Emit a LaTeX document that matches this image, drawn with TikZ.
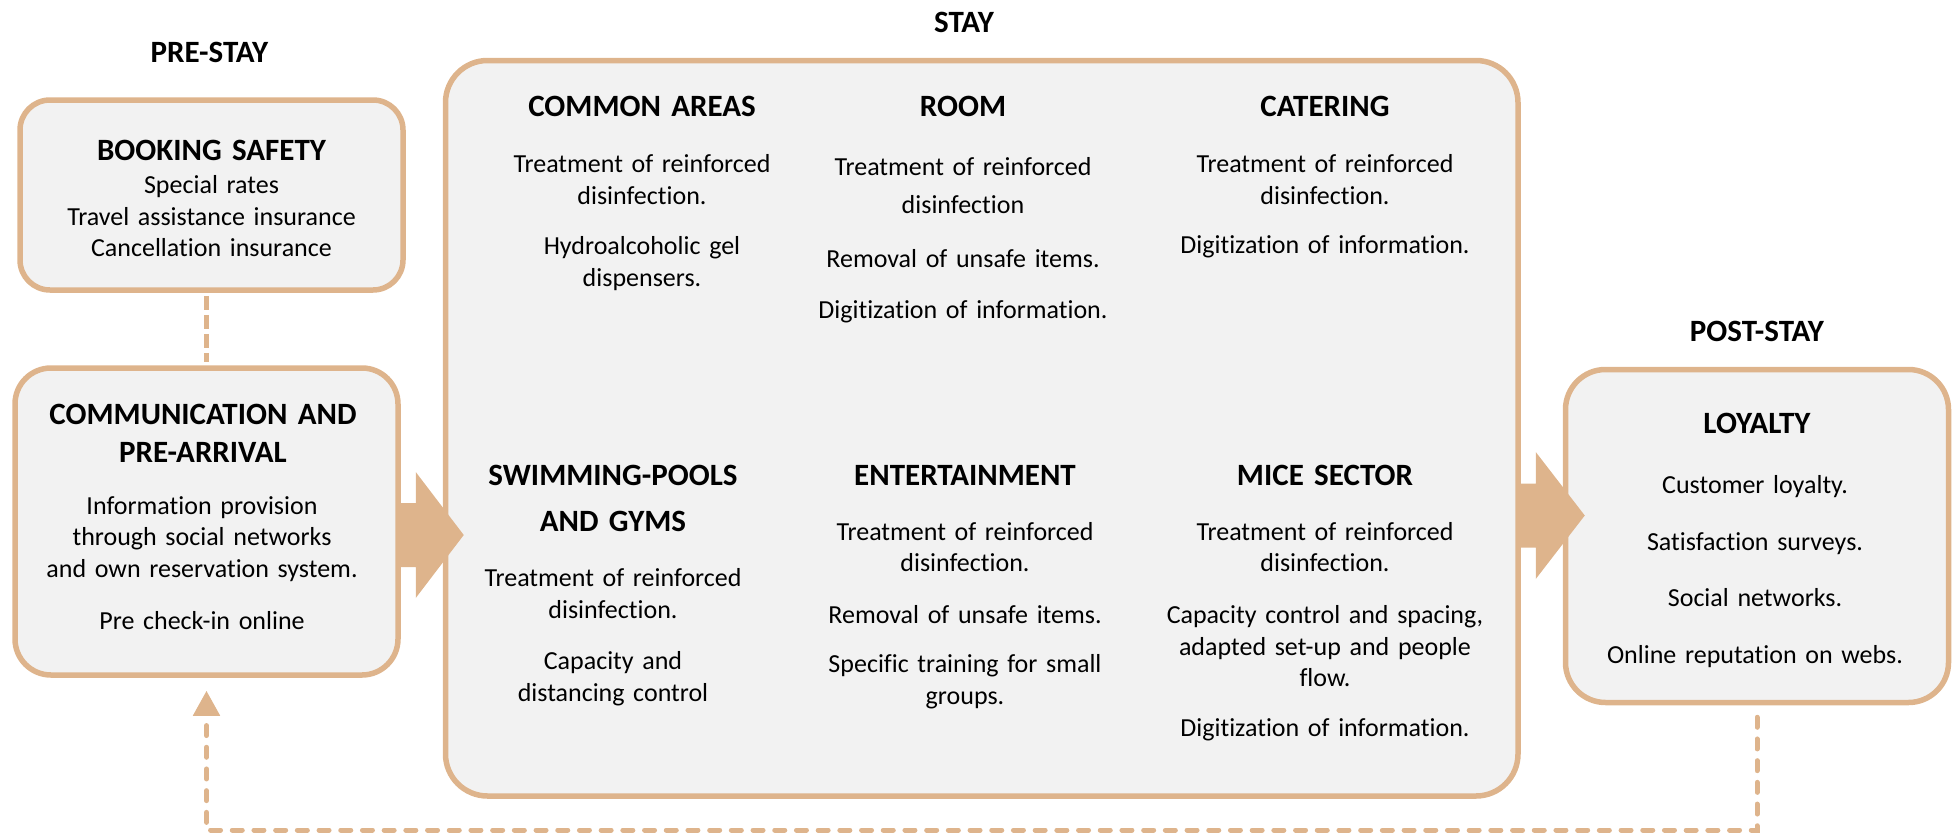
\documentclass[tikz,border=0pt]{standalone}
\usepackage{fontspec}
\setmainfont{Carlito}[Ligatures=NoCommon]
\usepackage{tikz}
\usetikzlibrary{arrows.meta}

\definecolor{boxline}{RGB}{222,180,140}
\definecolor{boxfill}{RGB}{242,242,242}

\begin{document}
\begin{tikzpicture}[x=1pt,y=-1pt,
  box/.style={draw=boxline, line width=5.5pt, fill=boxfill, rectangle, inner sep=0pt},
  head/.style={font=\fontsize{31}{37}\selectfont\bfseries, anchor=base, inner sep=0pt,
    text width=380pt, align=center},
  item/.style={font=\fontsize{26}{31.7}\selectfont, anchor=base, inner sep=0pt,
    text width=380pt, align=center},
  dashline/.style={draw=boxline, line width=5pt},
  fatarrow/.style={fill=boxline}]
  \useasboundingbox (0,0) rectangle (1955,833);
  \coordinate (arrowrow1) at (0,535);
  \coordinate (arrowrow2) at (0,515.5);
  \coordinate (bottomrow) at (0,830);

  % phases
  \node[box, rounded corners=30pt, minimum width=383pt, minimum height=190pt] (booking) at (211.5,195) {};
  \node[box, rounded corners=36pt, minimum width=383pt, minimum height=307pt] (comm) at (206.5,521.5) {};
  \node[box, rounded corners=42pt, minimum width=1072.5pt, minimum height=735.5pt] (stay) at (981.75,428.25) {};
  \node[box, rounded corners=40pt, minimum width=383pt, minimum height=333pt] (loyalty) at (1757,536) {};

  \draw[dashline, dash pattern=on 14pt off 5pt] ([yshift=-3pt]booking.south -| comm.north) -- ([yshift=3pt]comm.north);
  \draw[dashline, line cap=round, dash pattern=on 10pt off 11.7pt, -{Triangle[width=26pt,length=25pt]}]
    ([yshift=-12pt]loyalty.south) -- (loyalty.south |- bottomrow) -| ([yshift=-13pt]comm.south);

  \fill[fatarrow] (comm.east |- arrowrow1) ++(-3,-32) -- ++(18,0) -- ++(0,-31) -- ++(48,63)
    -- ++(-48,63) -- ++(0,-31) -- ++(-18,0) -- cycle;
  \fill[fatarrow] (stay.east |- arrowrow2) ++(-3,-32) -- ++(18,0) -- ++(0,-31.5) -- ++(49,63.5)
    -- ++(-49,63.5) -- ++(0,-31.5) -- ++(-18,0) -- cycle;

  \node[head] (prestay) at (209.5,62) {PRE-STAY};
  \node[head] (staylabel) at (964,32.3) {STAY};
  \node[head] (poststay) at (1757,341.7) {POST-STAY};

  % pre-stay
  \node[head] (bookingtitle) at (211.5,160) {BOOKING SAFETY};
  \node[item] (bookingitems) at (211.5,193.3) {Special rates\\Travel assistance insurance\\Cancellation insurance};
  \node[head] (commtitle) at (203,424.3) {COMMUNICATION AND\\[1pt]PRE-ARRIVAL};
  \node[item] (commitems) at (202,514) {Information provision\\through social networks\\and own reservation system.\\[20pt]Pre check-in online};

  % stay
  \node[head] (areastitle) at (642,116.7) {COMMON AREAS};
  \node[item] (areasitems) at (642,172.3) {Treatment of reinforced\\disinfection.\\[18.6pt]Hydroalcoholic gel\\dispensers.};
  \node[head] (roomtitle) at (963,116.7) {ROOM};
  \node[item] (roomitems) at (963,175) {Treatment of reinforced\\[6.8pt]disinfection\\[22pt]Removal of unsafe items.\\[19.3pt]Digitization of information.};
  \node[head] (cateringtitle) at (1325,116.7) {CATERING};
  \node[item] (cateringitems) at (1325,172.3) {Treatment of reinforced\\disinfection.\\[17.6pt]Digitization of information.};

  \node[head] (poolstitle) at (613,485) {SWIMMING-POOLS\\[9pt]AND GYMS};
  \node[item] (poolsitems) at (613,586.7) {Treatment of reinforced\\disinfection.\\[19.2pt]Capacity and\\distancing control};
  \node[head] (funtitle) at (965,485) {ENTERTAINMENT};
  \node[item] (funitems) at (965,540) {Treatment of reinforced\\disinfection.\\[19.9pt]Removal of unsafe items.\\[17.7pt]Specific training for small\\groups.};
  \node[head] (micetitle) at (1325,485) {MICE SECTOR};
  \node[item] (miceitems) at (1325,540) {Treatment of reinforced\\disinfection.\\[19.9pt]Capacity control and spacing,\\adapted set-up and people\\flow.\\[18.3pt]Digitization of information.};

  % post-stay
  \node[head] (loyaltytitle) at (1757,433.3) {LOYALTY};
  \node[item] (loyaltyitems) at (1755,493.3) {Customer loyalty.\\[25pt]Satisfaction surveys.\\[25pt]Social networks.\\[25pt]Online reputation on webs.};
\end{tikzpicture}
\end{document}
